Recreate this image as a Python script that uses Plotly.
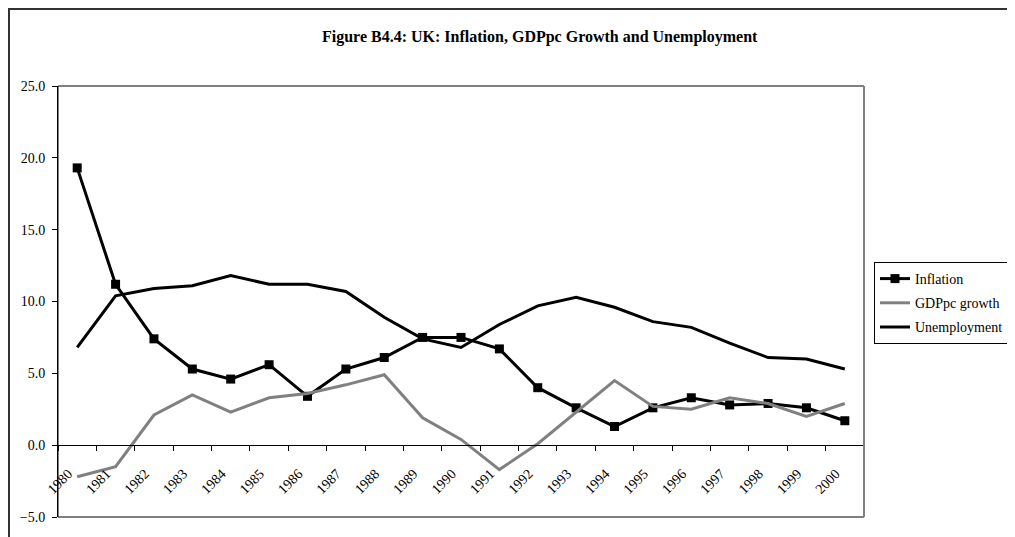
import plotly.graph_objects as go

years = [str(y) for y in range(1980, 2001)]
inflation = [19.3, 11.2, 7.4, 5.3, 4.6, 5.6, 3.4, 5.3, 6.1, 7.5, 7.5,
             6.7, 4.0, 2.6, 1.3, 2.6, 3.3, 2.8, 2.9, 2.6, 1.7]
gdppc_growth = [-2.2, -1.5, 2.1, 3.5, 2.3, 3.3, 3.6, 4.2, 4.9, 1.9, 0.4,
                -1.7, 0.1, 2.3, 4.5, 2.7, 2.5, 3.3, 2.9, 2.0, 2.9]
unemployment = [6.8, 10.4, 10.9, 11.1, 11.8, 11.2, 11.2, 10.7, 8.9, 7.4, 6.8,
                8.4, 9.7, 10.3, 9.6, 8.6, 8.2, 7.1, 6.1, 6.0, 5.3]
y_ticks = [-5, 0, 5, 10, 15, 20, 25]
title_text = "Figure B4.4: UK: Inflation, GDPpc Growth and Unemployment"

FONT = "Liberation Serif"

fig = go.Figure()
fig.add_trace(go.Scatter(x=years, y=inflation, name="Inflation", mode="lines+markers",
                         legendgroup="a",
                         line=dict(color="black", width=3),
                         marker=dict(symbol="square", size=9, color="black")))
fig.add_trace(go.Scatter(x=years, y=gdppc_growth, name="GDPpc growth", mode="lines",
                         legendgroup="b",
                         line=dict(color="#808080", width=3)))
fig.add_trace(go.Scatter(x=years, y=unemployment, name="Unemployment", mode="lines",
                         legendgroup="c",
                         line=dict(color="black", width=3)))

# page body has an 8px margin: shift the plot area back by that amount
OFF = 8
W, H = 1015, 537
L, T = 58 - OFF, 86 - OFF
pw, ph = 806, 431
R = W - L - pw
B = H - T - ph

def px(x):
    return (x - OFF - L) / pw

def py(y):
    return (T + ph - (y - OFF)) / ph

fig.update_layout(
    width=W, height=H,
    margin=dict(l=L, r=R, t=T, b=B, pad=0),
    paper_bgcolor="white", plot_bgcolor="white",
    font=dict(family=FONT, size=14, color="black"),
    showlegend=True,
    legend=dict(x=px(874), y=py(262), xanchor="left", yanchor="top",
                bordercolor="black", borderwidth=1, bgcolor="white",
                font=dict(family=FONT, size=14), itemwidth=30,
                tracegroupgap=3),
    xaxis=dict(type="category", range=[-0.5, 20.5], anchor="free",
               position=(0 - (-5)) / 30, showline=True, linecolor="black",
               linewidth=1, ticks="outside", ticklen=5, tickcolor="black",
               tickson="boundaries", tickangle=-45, showgrid=False,
               zeroline=False, tickfont=dict(family=FONT, size=14),
               ticklabelstandoff=14, ticklabelshift=-9),
    yaxis=dict(range=[-5, 25], tickvals=y_ticks, tickformat=".1f",
               showline=True, linecolor="black", linewidth=1,
               ticks="outside", ticklen=5, tickcolor="black",
               showgrid=False, zeroline=False, ticklabelstandoff=4,
               tickfont=dict(family=FONT, size=14)),
    annotations=[dict(text="<b>" + title_text + "</b>", xref="paper", yref="paper",
                      x=px(540), y=py(37), xanchor="center", yanchor="middle",
                      showarrow=False, font=dict(family=FONT, size=16))],
    shapes=[
        dict(type="rect", xref="paper", yref="paper", x0=px(9), x1=px(1011),
             y0=py(550), y1=py(9), line=dict(color="#333333", width=2)),
        dict(type="rect", xref="paper", yref="paper", x0=0, x1=1, y0=0, y1=1,
             line=dict(color="black", width=1)),
        dict(type="line", xref="paper", yref="paper", x0=1, x1=1, y0=0, y1=1,
             line=dict(color="#808080", width=2)),
    ],
)

fig.write_html("out.html")
